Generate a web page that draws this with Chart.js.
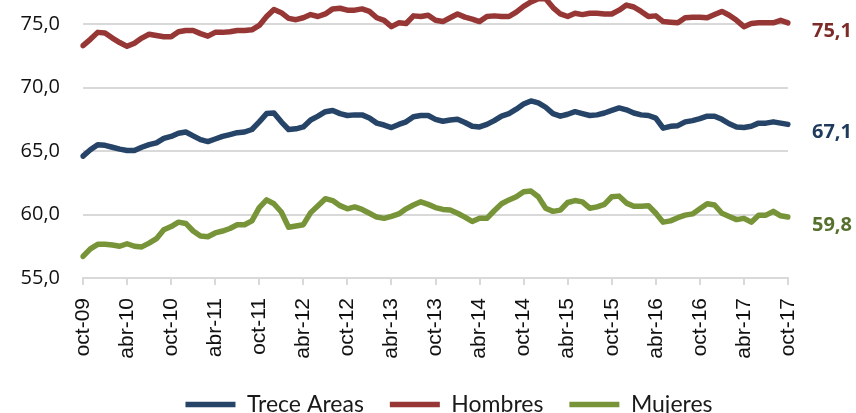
<!DOCTYPE html>
<html>
<head>
<meta charset="utf-8">
<title>Tasa global de participación</title>
<script src="https://cdn.jsdelivr.net/npm/chart.js@4/dist/chart.umd.min.js"></script>
<style>
  html, body { margin: 0; padding: 0; background: #ffffff; overflow: hidden; width: 856px; height: 413px; }
  #wrap { position: relative; width: 856px; height: 426px; }
</style>
</head>
<body>
<div id="wrap"><canvas id="chart" width="856" height="426"></canvas></div>
<script>
// Monthly categories, oct-09 to oct-17
const months = [
  'oct-09','nov-09','dic-09',
  'ene-10','feb-10','mar-10','abr-10','may-10','jun-10','jul-10','ago-10','sep-10','oct-10','nov-10','dic-10',
  'ene-11','feb-11','mar-11','abr-11','may-11','jun-11','jul-11','ago-11','sep-11','oct-11','nov-11','dic-11',
  'ene-12','feb-12','mar-12','abr-12','may-12','jun-12','jul-12','ago-12','sep-12','oct-12','nov-12','dic-12',
  'ene-13','feb-13','mar-13','abr-13','may-13','jun-13','jul-13','ago-13','sep-13','oct-13','nov-13','dic-13',
  'ene-14','feb-14','mar-14','abr-14','may-14','jun-14','jul-14','ago-14','sep-14','oct-14','nov-14','dic-14',
  'ene-15','feb-15','mar-15','abr-15','may-15','jun-15','jul-15','ago-15','sep-15','oct-15','nov-15','dic-15',
  'ene-16','feb-16','mar-16','abr-16','may-16','jun-16','jul-16','ago-16','sep-16','oct-16','nov-16','dic-16',
  'ene-17','feb-17','mar-17','abr-17','may-17','jun-17','jul-17','ago-17','sep-17','oct-17'
];

// Series (%)
const treceAreas = [
  64.6, 65.1, 65.5, 65.45, 65.3, 65.15, 65.05, 65.05, 65.3, 65.5,
  65.65, 66.0, 66.15, 66.4, 66.5, 66.2, 65.9, 65.75, 65.95, 66.15,
  66.3, 66.45, 66.5, 66.7, 67.3, 67.95, 68.0, 67.3, 66.7, 66.75,
  66.9, 67.45, 67.75, 68.1, 68.2, 67.95, 67.8, 67.85, 67.85, 67.6,
  67.2, 67.05, 66.85, 67.1, 67.3, 67.7, 67.8, 67.8, 67.5, 67.35,
  67.45, 67.5, 67.25, 66.95, 66.9, 67.1, 67.4, 67.75, 67.95, 68.3,
  68.7, 68.95, 68.8, 68.45, 67.95, 67.75, 67.9, 68.1, 67.95, 67.8,
  67.85, 68.0, 68.2, 68.4, 68.25, 68.0, 67.85, 67.8, 67.6, 66.8,
  66.95, 67.0, 67.3, 67.4, 67.55, 67.75, 67.75, 67.5, 67.15, 66.9,
  66.85, 66.95, 67.2, 67.2, 67.3, 67.2, 67.1
];
const hombres = [
  73.3, 73.8, 74.35, 74.3, 73.9, 73.55, 73.25, 73.5, 73.9, 74.2,
  74.1, 74.0, 74.0, 74.4, 74.5, 74.5, 74.25, 74.05, 74.35, 74.35,
  74.4, 74.5, 74.5, 74.55, 74.9, 75.6, 76.15, 75.9, 75.45, 75.35,
  75.5, 75.75, 75.6, 75.8, 76.2, 76.25, 76.1, 76.1, 76.2, 76.0,
  75.5, 75.3, 74.8, 75.1, 75.05, 75.65, 75.6, 75.7, 75.3, 75.2,
  75.5, 75.8, 75.55, 75.4, 75.2, 75.6, 75.65, 75.6, 75.6, 75.95,
  76.4, 76.75, 77.0, 77.0, 76.3, 75.8, 75.6, 75.85, 75.75, 75.85,
  75.85, 75.8, 75.8, 76.1, 76.5, 76.35, 76.0, 75.6, 75.65, 75.2,
  75.15, 75.1, 75.5, 75.55, 75.55, 75.5, 75.75, 76.0, 75.7, 75.3,
  74.8, 75.05, 75.1, 75.1, 75.1, 75.3, 75.1
];
const mujeres = [
  56.7, 57.3, 57.65, 57.65, 57.6, 57.5, 57.7, 57.5, 57.45, 57.75,
  58.1, 58.8, 59.05, 59.4, 59.3, 58.7, 58.3, 58.25, 58.55, 58.7,
  58.9, 59.2, 59.2, 59.5, 60.55, 61.15, 60.85, 60.2, 59.0, 59.1,
  59.2, 60.15, 60.7, 61.25, 61.1, 60.7, 60.45, 60.6, 60.4, 60.1,
  59.8, 59.7, 59.85, 60.05, 60.45, 60.75, 61.0, 60.8, 60.55, 60.4,
  60.35, 60.1, 59.8, 59.45, 59.7, 59.7, 60.3, 60.85, 61.15, 61.4,
  61.8, 61.85, 61.4, 60.5, 60.25, 60.35, 60.95, 61.1, 61.0, 60.5,
  60.6, 60.8, 61.4, 61.45, 60.9, 60.65, 60.65, 60.7, 60.1, 59.4,
  59.5, 59.75, 59.95, 60.05, 60.45, 60.85, 60.75, 60.1, 59.85, 59.6,
  59.7, 59.4, 59.95, 59.95, 60.25, 59.9, 59.8
];

const seriesNames = ['Trece Areas', 'Hombres', 'Mujeres'];
const lineColors = ['#264468', '#963735', '#779438'];
const endLabelColors = ['#1f3a5c', '#7d2b29', '#56702e'];

const fmt = v => v.toFixed(1).replace('.', ',');

// Value of the last month written to the right of each line
const endLabels = {
  id: 'endLabels',
  afterDatasetsDraw(chart) {
    const { ctx, chartArea, scales } = chart;
    ctx.save();
    ctx.font = 'bold 20px "Open Sans", sans-serif';
    ctx.textAlign = 'left';
    ctx.textBaseline = 'middle';
    chart.data.datasets.forEach((ds, k) => {
      const v = ds.data[ds.data.length - 1];
      ctx.fillStyle = endLabelColors[k];
      ctx.fillText(fmt(v), chartArea.right + 24, scales.y.getPixelForValue(v) + 8);
    });
    ctx.restore();
  }
};

// Nudge the legend row so it sits under the middle of the plot
const legendOffset = {
  id: 'legendOffset',
  afterLayout(chart) {
    if (chart.legend) {
      chart.legend.left += 55;
      chart.legend.right += 55;
    }
  }
};

const series = [treceAreas, hombres, mujeres];

new Chart(document.getElementById('chart'), {
  type: 'line',
  data: {
    labels: months,
    datasets: series.map((d, k) => ({
      label: seriesNames[k],
      data: d,
      borderColor: lineColors[k],
      backgroundColor: lineColors[k],
      borderWidth: 5.5,
      borderCapStyle: 'round',
      borderJoinStyle: 'round',
      pointRadius: 0,
      pointHoverRadius: 0,
      tension: 0,
      fill: false
    }))
  },
  options: {
    responsive: false,
    animation: false,
    layout: { padding: { left: 0, right: 68, top: 0, bottom: 0 } },
    plugins: {
      tooltip: { enabled: false },
      legend: {
        display: true,
        position: 'bottom',
        labels: {
          usePointStyle: true,
          pointStyle: 'line',
          pointStyleWidth: 50,
          padding: 26,
          color: '#1a1a1a',
          font: { family: 'Lato, "Open Sans", sans-serif', size: 23 }
        }
      }
    },
    scales: {
      x: {
        type: 'category',
        offset: false,
        grid: {
          display: true,
          drawOnChartArea: false,
          drawTicks: true,
          tickLength: 7,
          color: '#d9d9d9',
          lineWidth: 2
        },
        border: { display: true, color: '#d9d9d9', width: 2 },
        ticks: {
          autoSkip: false,
          maxRotation: 90,
          minRotation: 90,
          padding: 13,
          color: '#111111',
          font: { family: '"Liberation Sans", Arial, sans-serif', size: 21 },
          callback(value, index) {
            return index % 6 === 0 ? months[index] : null;
          }
        },
        afterFit(scale) {
          scale.height = 89;
        }
      },
      y: {
        min: 55,
        max: 76.9,
        grid: { color: '#d9d9d9', lineWidth: 2, drawTicks: false },
        border: { display: false },
        ticks: {
          stepSize: 5,
          includeBounds: false,
          padding: 23,
          color: '#111111',
          font: { family: '"Open Sans", sans-serif', size: 20 },
          callback: v => fmt(v)
        },
        afterFit(scale) {
          scale.width = 83;
          scale.paddingTop = 0;
        }
      }
    }
  },
  plugins: [endLabels, legendOffset]
});
</script>
</body>
</html>
